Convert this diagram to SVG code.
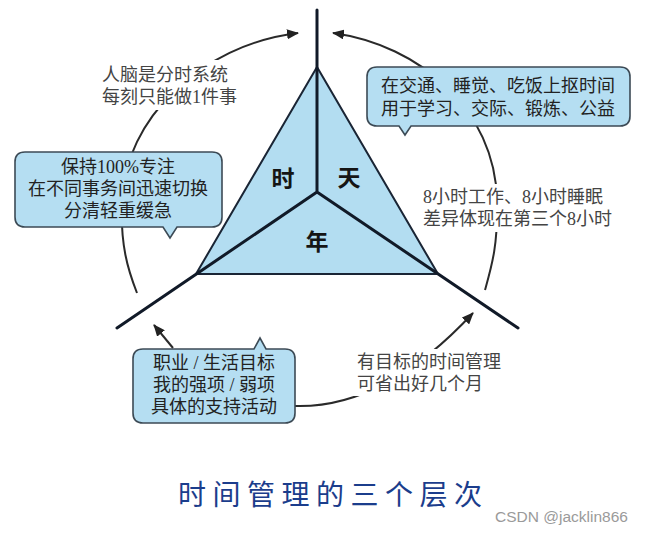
<svg xmlns="http://www.w3.org/2000/svg" width="645" height="535" viewBox="0 0 645 535">
<defs>
<marker id="ah" viewBox="0 0 12 10" refX="11" refY="5" markerWidth="12" markerHeight="10" markerUnits="userSpaceOnUse" orient="auto">
<path d="M0,0 L12,5 L0,10 Z" fill="#222"/>
</marker>
<style>
.arc{fill:none;stroke:#2a2a2a;stroke-width:2}
.box{fill:#b5def2;stroke:#3c4a55;stroke-width:1.6}
.bt{font-family:"Liberation Serif","Noto Sans CJK SC",serif;font-size:18px;fill:#222}
.pt{font-family:"Liberation Serif","Noto Sans CJK SC",serif;font-size:18px;fill:#444}
.big{font-family:"Noto Sans CJK SC",sans-serif;font-size:23px;font-weight:700;fill:#151515;text-anchor:middle}
.axis{stroke:#111a28;stroke-width:3;stroke-linecap:round;fill:none}
.mask{fill:#fff}
</style>
</defs>
<rect width="645" height="535" fill="#fff"/>
<g id="connectors">
<path class="arc" d="M 137,293 C 128,270 120,245 122,200 C 125,120 200,45 298,33" marker-end="url(#ah)"/>
<path class="arc" d="M 485,290 C 492,265 498,245 497,200 C 495,110 420,45 333,33" marker-end="url(#ah)"/>
<path class="arc" d="M 295,406 C 360,408 420,370 473,313" marker-end="url(#ah)"/>
<path class="arc" d="M 173,348 L 154,325" marker-end="url(#ah)"/>
<rect class="mask" x="98" y="60" width="148" height="50"/>
<rect class="mask" x="418" y="184" width="206" height="48"/>
<rect class="mask" x="353" y="349" width="158" height="47"/>
</g>
<g id="triangle">
<polygon points="317,67 196,274 438,274" fill="#b3ddf1" stroke="#1a2535" stroke-width="2"/>
<path class="axis" d="M317,10 L317,192 M317,192 L117,328 M317,192 L518,328"/>
<text class="big" x="283" y="187">时</text>
<text class="big" x="349" y="186">天</text>
<text class="big" x="317" y="250">年</text>
</g>
<g id="note-brain">
<text class="pt" x="102" y="81">人脑是分时系统</text>
<text class="pt" x="102" y="103">每刻只能做1件事</text>
</g>
<g id="box-focus">
<path class="box" d="M25,152 H212 Q222,152 222,162 V217 Q222,227 212,227 H177 L170,238 L163,227 H25 Q15,227 15,217 V162 Q15,152 25,152 Z"/>
<text class="bt" x="118" y="173" text-anchor="middle">保持100%专注</text>
<text class="bt" x="118" y="195" text-anchor="middle">在不同事务间迅速切换</text>
<text class="bt" x="118" y="217" text-anchor="middle">分清轻重缓急</text>
</g>
<g id="box-day">
<path class="box" d="M377,67 H620 Q630,67 630,77 V116 Q630,126 620,126 H411 L405,135 L399,126 H377 Q367,126 367,116 V77 Q367,67 377,67 Z"/>
<text class="bt" x="498" y="92" text-anchor="middle">在交通、睡觉、吃饭上抠时间</text>
<text class="bt" x="498" y="115" text-anchor="middle">用于学习、交际、锻炼、公益</text>
</g>
<g id="note-8h">
<text class="pt" x="423" y="203">8小时工作、8小时睡眠</text>
<text class="pt" x="423" y="225">差异体现在第三个8小时</text>
</g>
<g id="box-year">
<path class="box" d="M143,349 H254 L260,338 L266,349 H285 Q295,349 295,359 V413 Q295,423 285,423 H143 Q133,423 133,413 V359 Q133,349 143,349 Z"/>
<text class="bt" x="214" y="369" text-anchor="middle">职业 / 生活目标</text>
<text class="bt" x="214" y="391" text-anchor="middle">我的强项 / 弱项</text>
<text class="bt" x="214" y="413" text-anchor="middle">具体的支持活动</text>
</g>
<g id="note-goal">
<text class="pt" x="357" y="368">有目标的时间管理</text>
<text class="pt" x="357" y="390">可省出好几个月</text>
</g>
<g id="title">
<text x="178" y="505" font-family="Noto Sans CJK SC, sans-serif" font-size="28" letter-spacing="6.5" fill="#1b3d8c">时间管理的三个层次</text>
</g>
<text x="495" y="522" font-family="Liberation Sans, sans-serif" font-size="15.5" fill="#9a9a9a">CSDN @jacklin866</text>
</svg>
